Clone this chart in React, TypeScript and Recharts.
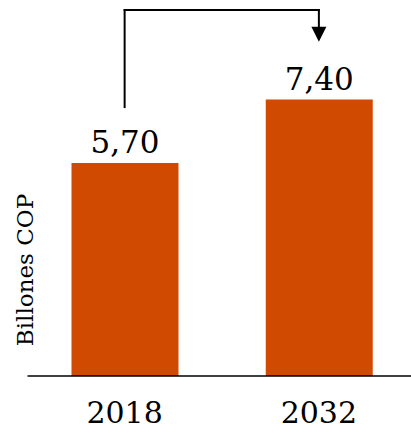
import { BarChart, Bar, XAxis, YAxis, LabelList, ReferenceLine, Customized } from "recharts";

const years = ["2018", "2032"];
const values = [5.7, 7.4];

// arrow levels, in billions (data units)
const arrowStart = 7.2;
const arrowTop = 9.8;
const arrowEnd = 8.95;

const data = years.map((year, i) => ({ year, value: values[i] }));

const FONT = "'DejaVu Serif', serif";
const ORANGE = "#D04A02";

const fmt = (v: number) => v.toFixed(2).replace(".", ",");

const YearTick = ({ x, y, payload }: any) => (
  <text x={x} y={y + 39} textAnchor="middle" fontFamily={FONT} fontSize={30} fill="#000">
    {payload.value}
  </text>
);

const ArrowDown = ({ x1, y1, x2, y2 }: any) => (
  <g>
    <line x1={x1} y1={y1} x2={x2} y2={y2 - 10} stroke="#000" strokeWidth={2} strokeLinecap="square" />
    <polygon points={`${x2 - 7.5},${y2 - 15} ${x2 + 7.5},${y2 - 15} ${x2},${y2}`} fill="#000" />
  </g>
);

const AxisTitle = () => (
  <text
    transform="translate(33, 270) rotate(-90)"
    textAnchor="middle"
    fontFamily={FONT}
    fontSize={23}
    fill="#000"
  >
    Billones COP
  </text>
);

export default function App() {
  return (
    <div style={{ position: "absolute", left: 0, top: 0, width: 411, height: 434, overflow: "hidden" }}>
      <BarChart width={416} height={434} data={data} margin={{ top: 2.5, right: 0, bottom: 0, left: 0 }}>
        <XAxis
          dataKey="year"
          height={58}
          tickLine={false}
          axisLine={{ stroke: "#000", strokeWidth: 1.5 }}
          tick={<YearTick />}
        />
        <YAxis width={27.5} domain={[0, 10]} tick={false} axisLine={false} tickLine={false} />
        <Bar dataKey="value" fill={ORANGE} barSize={107} isAnimationActive={false}>
          <LabelList
            dataKey="value"
            position="top"
            offset={10}
            formatter={(v: any) => fmt(Number(v))}
            fontFamily={FONT}
            fontSize={31}
            fill="#000"
          />
        </Bar>
        <ReferenceLine
          segment={[{ x: years[0], y: arrowStart }, { x: years[0], y: arrowTop }]}
          stroke="#000"
          strokeWidth={2}
          strokeLinecap="square"
        />
        <ReferenceLine
          segment={[{ x: years[0], y: arrowTop }, { x: years[1], y: arrowTop }]}
          stroke="#000"
          strokeWidth={2}
          strokeLinecap="square"
        />
        <ReferenceLine
          segment={[{ x: years[1], y: arrowTop }, { x: years[1], y: arrowEnd }]}
          shape={<ArrowDown />}
        />
        <Customized component={AxisTitle} />
      </BarChart>
    </div>
  );
}
